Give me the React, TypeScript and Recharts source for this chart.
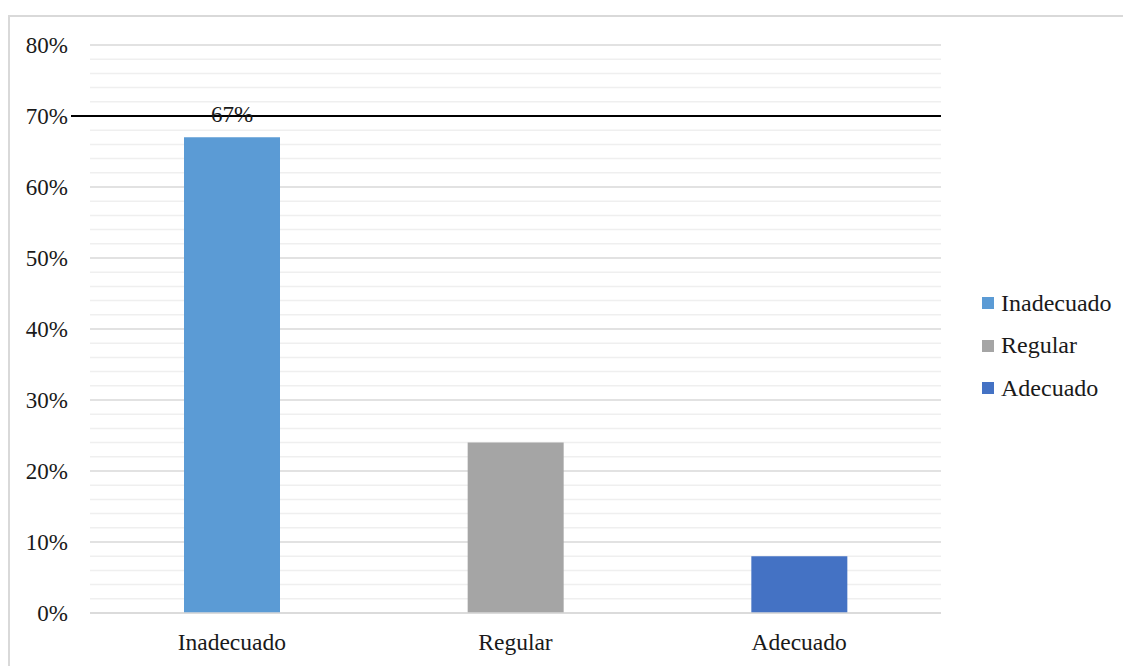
import React from 'react'
import {
  BarChart,
  Bar,
  XAxis,
  YAxis,
  CartesianGrid,
  Cell,
  LabelList,
  Legend,
  ReferenceLine,
} from 'recharts'

const categories = ['Inadecuado', 'Regular', 'Adecuado']
const percentages = [67, 24, 8]
const barColors = ['#5B9BD5', '#A5A5A5', '#4472C4']
const majorTicks = [0, 10, 20, 30, 40, 50, 60, 70, 80]
const minorTicks = [2, 4, 6, 8, 12, 14, 16, 18, 22, 24, 26, 28, 32, 34, 36, 38, 42, 44, 46, 48, 52, 54, 56, 58, 62, 64, 66, 68, 72, 74, 76, 78]
const labelledValues = [67]
const targetLine = 70

const data = categories.map((name, i) => ({ name, value: percentages[i] }))

const font = 'Liberation Serif, serif'
const textColor = '#1a1a1a'

function renderLegend() {
  return (
    <ul style={{ listStyle: 'none', margin: 0, padding: 0, fontFamily: font, fontSize: 24, color: textColor }}>
      {categories.map((c, i) => (
        <li key={c} style={{ display: 'flex', alignItems: 'center', height: 42.5 }}>
          <span style={{ display: 'inline-block', width: 12, height: 12, background: barColors[i], marginRight: 7 }} />
          <span>{c}</span>
        </li>
      ))}
    </ul>
  )
}

export default function App() {
  return (
    <div
      style={{
        position: 'fixed',
        left: 0,
        top: 0,
        width: 1123,
        height: 666,
        overflow: 'hidden',
        background: '#fff',
        fontFamily: font,
      }}
    >
      <div
        style={{
          position: 'absolute',
          left: 8,
          top: 15,
          width: 1200,
          height: 800,
          border: '2px solid #d9d9d9',
        }}
      />
      <div style={{ position: 'absolute', left: 0, top: 0 }}>
        <BarChart width={1123} height={666} data={data} margin={{ top: 45, right: 182, bottom: 0, left: 0 }}>
          {/* minor gridlines every 2%, then the major 10% lines over them */}
          <CartesianGrid vertical={false} horizontalValues={minorTicks} stroke="#efefef" strokeWidth={1.5} />
          <CartesianGrid vertical={false} stroke="#d9d9d9" strokeWidth={1.5} />
          <XAxis
            dataKey="name"
            height={53}
            axisLine={{ stroke: '#d9d9d9', strokeWidth: 1.5 }}
            tickLine={false}
            tickMargin={14}
            tick={{ fill: textColor, fontSize: 23.5, fontFamily: font }}
          />
          <YAxis
            width={90}
            domain={[0, 80]}
            ticks={majorTicks}
            interval={0}
            axisLine={false}
            tickLine={false}
            tickMargin={16}
            tickFormatter={(v) => `${v}%`}
            tick={{ fill: textColor, fontSize: 23, fontFamily: font }}
          />
          <Legend
            layout="horizontal"
            align="center"
            verticalAlign="middle"
            width={148}
            content={renderLegend}
            wrapperStyle={{ left: 982, top: 282, right: 'auto', bottom: 'auto' }}
          />
          <Bar dataKey="value" barSize={96} isAnimationActive={false}>
            {data.map((d, i) => (
              <Cell key={d.name} fill={barColors[i]} />
            ))}
            <LabelList
              dataKey="value"
              position="top"
              offset={15}
              fill={textColor}
              fontSize={23}
              fontFamily={font}
              formatter={(v: any) => (labelledValues.includes(v) ? `${v}%` : '')}
            />
          </Bar>
          <ReferenceLine
            y={targetLine}
            stroke="#000"
            strokeWidth={2}
            shape={(p: any) => <line x1={p.x1 - 19} y1={p.y1} x2={p.x2} y2={p.y2} stroke="#000" strokeWidth={2} />}
          />
        </BarChart>
      </div>
    </div>
  )
}
